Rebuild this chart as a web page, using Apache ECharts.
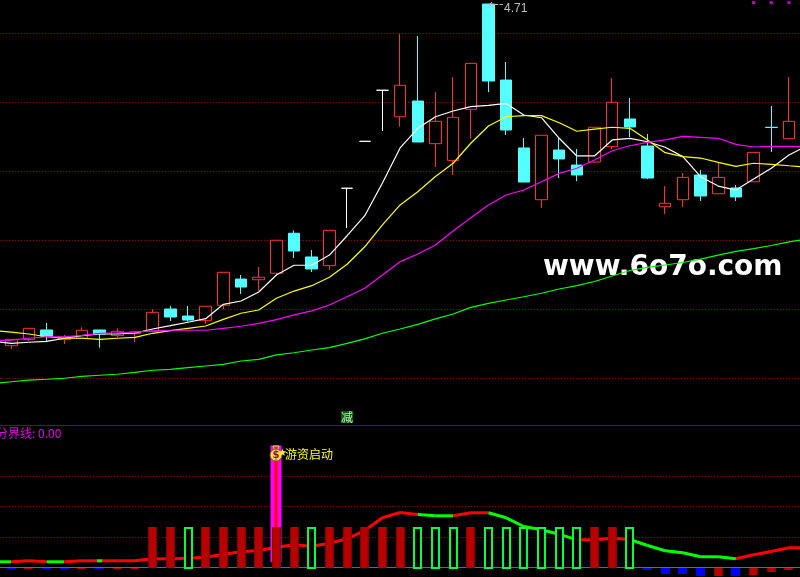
<!DOCTYPE html>
<html>
<head>
<meta charset="utf-8">
<title>K线</title>
<style>
    html, body { margin: 0; padding: 0; background: #000; }
    #main { width: 800px; height: 577px; }
</style>
<script src="https://cdn.jsdelivr.net/npm/echarts@6/dist/echarts.min.js"></script>
</head>
<body>
<div id="main"></div>
<script>
// one entry per trading day (last day has no candle, only lines)
const openPrice = [2.183, 2.234, 2.280, 2.348, 2.278, 2.288, 2.348, 2.307, 2.322, 2.338, 2.500, 2.449, 2.418, 2.527, 2.717, 2.712, 2.759, 3.049, 2.877, 2.814, 3.375, 3.715, 4.085, 3.893, 4.007, 3.698, 3.575, 3.947, 4.710, 4.159, 3.667, 3.292, 3.652, 3.543, 3.565, 3.676, 3.877, 3.681, 3.241, 3.292, 3.471, 3.335, 3.377, 3.422, 3.817, 3.734, null];
const closePrice = [2.232, 2.280, 2.360, 2.302, 2.297, 2.346, 2.319, 2.338, 2.333, 2.476, 2.442, 2.420, 2.520, 2.766, 2.659, 2.730, 2.998, 2.920, 2.790, 3.070, 3.375, 3.715, 4.085, 4.121, 3.710, 3.860, 3.889, 4.280, 4.152, 3.797, 3.420, 3.759, 3.587, 3.471, 3.817, 3.998, 3.819, 3.449, 3.266, 3.454, 3.319, 3.454, 3.312, 3.635, 3.815, 3.860, null];
const lowPrice = [2.181, 2.210, 2.268, 2.268, 2.246, 2.288, 2.220, 2.295, 2.261, 2.338, 2.413, 2.408, 2.393, 2.498, 2.609, 2.633, 2.739, 2.870, 2.768, 2.783, 3.087, 3.715, 3.790, 3.821, 3.710, 3.529, 3.471, 3.734, 4.072, 3.761, 3.420, 3.232, 3.449, 3.427, 3.558, 3.659, 3.746, 3.442, 3.188, 3.239, 3.283, 3.335, 3.283, 3.422, 3.638, 3.734, null];
const highPrice = [2.232, 2.280, 2.360, 2.399, 2.312, 2.367, 2.348, 2.360, 2.341, 2.498, 2.522, 2.522, 2.520, 2.766, 2.746, 2.804, 2.998, 3.070, 2.927, 3.070, 3.375, 3.715, 4.085, 4.493, 4.478, 4.072, 4.179, 4.280, 4.710, 4.290, 3.739, 3.759, 3.744, 3.659, 3.817, 4.174, 4.029, 3.768, 3.391, 3.485, 3.507, 3.558, 3.398, 3.635, 3.971, 4.181, null];

const ma5 = [2.265, 2.251, 2.259, 2.266, 2.288, 2.307, 2.319, 2.319, 2.326, 2.355, 2.379, 2.404, 2.430, 2.534, 2.558, 2.623, 2.746, 2.817, 2.817, 2.891, 3.031, 3.176, 3.413, 3.667, 3.809, 3.893, 3.935, 3.966, 3.976, 3.990, 3.906, 3.886, 3.737, 3.609, 3.609, 3.725, 3.737, 3.712, 3.672, 3.604, 3.459, 3.391, 3.362, 3.442, 3.520, 3.616, 3.681];
const ma10 = [2.344, 2.333, 2.319, 2.299, 2.288, 2.288, 2.280, 2.288, 2.295, 2.324, 2.343, 2.360, 2.377, 2.425, 2.469, 2.493, 2.578, 2.630, 2.669, 2.730, 2.824, 2.951, 3.109, 3.254, 3.350, 3.460, 3.556, 3.701, 3.826, 3.893, 3.901, 3.901, 3.850, 3.788, 3.804, 3.817, 3.809, 3.725, 3.633, 3.604, 3.594, 3.563, 3.534, 3.556, 3.548, 3.538, 3.529];
const ma20 = [2.268, 2.275, 2.288, 2.299, 2.299, 2.309, 2.324, 2.328, 2.333, 2.341, 2.346, 2.346, 2.346, 2.360, 2.375, 2.396, 2.423, 2.457, 2.486, 2.529, 2.589, 2.650, 2.746, 2.843, 2.899, 2.964, 3.065, 3.162, 3.254, 3.326, 3.362, 3.422, 3.483, 3.520, 3.580, 3.647, 3.683, 3.708, 3.725, 3.751, 3.744, 3.737, 3.693, 3.674, 3.679, 3.679, 3.676];
const ma60 = [1.960, 1.973, 1.985, 1.991, 1.998, 2.012, 2.020, 2.027, 2.041, 2.056, 2.063, 2.075, 2.087, 2.099, 2.123, 2.135, 2.167, 2.183, 2.203, 2.220, 2.251, 2.283, 2.324, 2.355, 2.389, 2.428, 2.464, 2.512, 2.541, 2.565, 2.589, 2.614, 2.645, 2.670, 2.699, 2.739, 2.779, 2.801, 2.819, 2.837, 2.862, 2.891, 2.917, 2.938, 2.960, 2.986, 3.007];

// lower panel
const curve = [1.87, 1.87, 2.2, 1.87, 1.87, 2.2, 2.2, 2.2, 2.2, 2.85, 2.85, 3.05, 3.38, 4.36, 5.15, 5.57, 6.66, 7.44, 6.98, 7.97, 9.41, 12.13, 16.3, 18.03, 17.38, 16.95, 16.95, 17.93, 17.93, 16.3, 13.44, 12.36, 10.92, 9.08, 9.08, 9.61, 9.18, 7.21, 5.48, 4.82, 3.51, 3.51, 2.85, 4.16, 5.25, 6.46, 6.46];
// 1 = the segment leaving this day is green
const curveGreen = [1, 0, 0, 1, 0, 0, 0, 0, 0, 0, 0, 0, 0, 0, 0, 0, 0, 0, 0, 0, 0, 0, 0, 0, 1, 1, 0, 0, 1, 1, 1, 1, 1, 0, 0, 0, 1, 1, 1, 1, 1, 1, 0, 0, 0, 0, 0];
const curveBlipDays = [6];
const barValues = [null, -0.4, -0.4, -0.4, -0.4, -0.4, -0.4, -0.4, -0.4, 13.44, 13.44, 13.44, 13.44, 13.44, 13.44, 13.44, 13.44, 13.44, 13.44, 13.44, 13.44, 13.44, 13.44, 13.44, 13.44, 13.44, 13.44, 13.44, 13.44, 13.44, 13.44, 13.44, 13.44, 13.44, 13.44, 13.44, 13.44, -0.66, -1.97, -1.97, -2.62, -2.62, -2.62, -2.2, -1.3, -0.66, null];
const barKinds = ['', 'b', 'r', 'b', 'b', 'r', 'b', 'r', 'r', 'r', 'r', 'g', 'r', 'r', 'r', 'r', 'r', 'r', 'g', 'r', 'r', 'r', 'r', 'r', 'g', 'g', 'g', 'r', 'g', 'g', 'g', 'g', 'g', 'g', 'r', 'r', 'g', 'b', 'b', 'b', 'b', 'r', 'b', 'r', 'r', 'r', ''];

// signal marks
const spikeDay = [16];
const spikeRange = [1.74, 40];
const spikeLabelLevel = [37.2];
const minusDay = [20];
const minusLevel = [1.717];
const dotDays = [43, 44, 45];
const dotLevel = [4.72];
const peakDay = [28];
const peakPrice = [4.71];
const separatorLevel = [1.66];

const days = openPrice.map((_, i) => String(i));
const zeroLine = days.map(() => 0);
const candleRows = openPrice.map((o, i) => o === null ? '-' : [o, closePrice[i], lowPrice[i], highPrice[i]]);

const RED = '#ff3232', CYAN = '#54ffff';
const DOT_LINE = { color: '#b00000', width: 1, type: [1, 2] };

function renderCurve(params, api) {
    const i = api.value(0);
    const a = api.coord([i, api.value(1)]);
    const color = curveGreen[i] ? '#00ff00' : '#ff0000';
    const children = [];
    if (i + 1 < curve.length) {
        const b = api.coord([i + 1, curve[i + 1]]);
        children.push({ type: 'line', shape: { x1: a[0], y1: a[1], x2: b[0], y2: b[1] }, style: { stroke: color, lineWidth: 3 } });
    }
    if (curveBlipDays.indexOf(i) !== -1) {
        children.push({ type: 'rect', shape: { x: a[0] - 2.5, y: a[1] - 1.5, width: 5, height: 3 }, style: { fill: '#00ff00' } });
    }
    return { type: 'group', children: children };
}

function renderBar(params, api) {
    const i = api.value(0);
    const kind = barKinds[i];
    const a = api.coord([i, api.value(1)]);
    const b = api.coord([i, 0]);
    const x = Math.round(a[0] - 4.5);
    const y = Math.round(Math.min(a[1], b[1]));
    const h = Math.max(1, Math.round(Math.abs(a[1] - b[1])));
    if (kind === 'g') {
        return { type: 'rect', shape: { x: x + 1, y: y + 1, width: 7, height: h - 1 }, style: { fill: '#000', stroke: '#00ff40', lineWidth: 2 } };
    }
    if (kind === 'b') {
        return { type: 'rect', shape: { x: x, y: y, width: 9, height: h }, style: { fill: '#0000ff' } };
    }
    const red = new echarts.graphic.LinearGradient(0, 0, 1, 0, [
        { offset: 0, color: '#7c0000' }, { offset: 0.2, color: '#b80000' },
        { offset: 0.8, color: '#b80000' }, { offset: 1, color: '#7c0000' }
    ]);
    return { type: 'rect', shape: { x: x, y: y, width: 9, height: h }, style: { fill: red } };
}

function renderSpike(params, api) {
    const i = api.value(0);
    const top = api.coord([i, api.value(2)]);
    const low = api.coord([i, api.value(1)]);
    const mark = api.coord([i, api.value(3)]);
    const x = Math.round(top[0]);
    const star = [];
    for (let k = 0; k < 10; k++) {
        const r = k % 2 ? 1.6 : 4;
        const t = -Math.PI / 2 + k * Math.PI / 5;
        star.push([x + 6.5 + r * Math.cos(t), mark[1] - 1.5 + r * Math.sin(t)]);
    }
    return {
        type: 'group',
        children: [
            { type: 'rect', shape: { x: x - 5.5, y: top[1], width: 11, height: low[1] - top[1] }, style: { fill: '#ff00ff' } },
            { type: 'rect', shape: { x: x - 1.5, y: top[1], width: 3, height: low[1] - top[1] }, style: { fill: '#ff0000' } },
            { type: 'polygon', shape: { points: [[x - 3, mark[1] - 8], [x + 3, mark[1] - 8], [x + 1.5, mark[1] - 4], [x - 1.5, mark[1] - 4]] }, style: { fill: '#c0392b', stroke: '#ffd860', lineWidth: 1 } },
            { type: 'circle', shape: { cx: x, cy: mark[1] + 1, r: 6 }, style: { fill: '#f5d76a', stroke: '#8a5a00', lineWidth: 1 } },
            { type: 'text', x: x, y: mark[1] + 1, style: { text: '$', fill: '#8b1a1a', font: 'bold 10px "DejaVu Sans"', align: 'center', verticalAlign: 'middle' } },
            { type: 'polygon', shape: { points: star }, style: { fill: '#ffff00' } },
            { type: 'text', x: x + 9, y: mark[1], style: { text: '游资启动', fill: '#ffff00', font: '12px "Noto Sans CJK SC"', verticalAlign: 'middle' } }
        ]
    };
}

function maLine(name, data, color) {
    return {
        name: name, type: 'line', data: data, xAxisIndex: 0, yAxisIndex: 0,
        symbol: 'none', animation: false, z: 3, clip: true,
        lineStyle: { color: color, width: 1.2 }
    };
}

const optionObj = {
    backgroundColor: '#000',
    animation: false,
    graphic: [
        { type: 'text', x: 543, y: 254, z: 1, silent: true, style: { text: 'www.6o7o.com', fill: '#fff', font: 'bold 28px "DejaVu Sans"' } },
        { type: 'text', x: -4, y: 427, z: 5, silent: true, style: { text: '分界线: 0.00', fill: '#e000e0', font: '12px "Noto Sans CJK SC"' } }
    ],
    grid: [
        { left: -15.24, top: -36, width: 830.7, height: 483, outerBoundsMode: 'none' },
        { left: -15.24, top: 445.5, width: 830.7, height: 152.5, outerBoundsMode: 'none' }
    ],
    xAxis: [
        { type: 'category', gridIndex: 0, data: days, show: false, boundaryGap: true },
        { type: 'category', gridIndex: 1, data: days, show: false, boundaryGap: true }
    ],
    yAxis: [
        {
            type: 'value', gridIndex: 0, min: 1.5, max: 5, interval: 0.5,
            axisLine: { show: false }, axisTick: { show: false }, axisLabel: { show: false },
            splitLine: { show: true, showMinLine: false, lineStyle: DOT_LINE }
        },
        {
            type: 'value', gridIndex: 1, min: -10, max: 40, interval: 10,
            axisLine: { show: false }, axisTick: { show: false }, axisLabel: { show: false },
            splitLine: { show: true, showMaxLine: false, showMinLine: false, lineStyle: DOT_LINE }
        }
    ],
    series: [
        {
            name: 'K', type: 'candlestick', data: candleRows, xAxisIndex: 0, yAxisIndex: 0,
            barWidth: 12, z: 2,
            itemStyle: { color: '#000', color0: CYAN, borderColor: RED, borderColor0: CYAN, borderColorDoji: '#fff', borderWidth: 1 },
            markLine: {
                silent: true, symbol: 'none', animation: false,
                label: { show: false },
                lineStyle: { color: '#8c0000', width: 1, type: 'solid' },
                data: [{ yAxis: separatorLevel[0] }]
            },
            markPoint: {
                silent: true, symbol: 'circle', symbolSize: 1, animation: false,
                itemStyle: { color: 'transparent' },
                label: { show: true, position: 'right', distance: 0, color: '#c0c0c0' },
                data: [
                    {
                        coord: [String(peakDay[0]), peakPrice[0]],
                        label: { formatter: String(peakPrice[0]), offset: [15, 5], fontSize: 12, fontFamily: 'Liberation Sans' }
                    },
                    {
                        coord: [String(peakDay[0]), peakPrice[0]],
                        label: { formatter: '\u2190-', offset: [0, 1], fontSize: 12, fontFamily: 'DejaVu Sans' }
                    }
                ]
            }
        },
        maLine('MA5', ma5, '#ffffff'),
        maLine('MA10', ma10, '#ffff00'),
        maLine('MA20', ma20, '#ff00ff'),
        maLine('MA60', ma60, '#00ff00'),
        {
            name: 'minus', type: 'scatter', xAxisIndex: 0, yAxisIndex: 0, symbolSize: 0, z: 4,
            data: [[minusDay[0], minusLevel[0]]],
            label: {
                show: true, position: 'inside', formatter: '减', color: '#fff',
                fontSize: 12, fontFamily: 'Noto Sans CJK SC', lineHeight: 12, backgroundColor: '#007a00'
            }
        },
        {
            name: 'dots', type: 'scatter', xAxisIndex: 0, yAxisIndex: 0, symbol: 'rect', symbolSize: 3, z: 4,
            itemStyle: { color: '#ff00ff' },
            data: dotDays.map(d => [d, dotLevel[0]])
        },
        {
            name: 'zero', type: 'line', data: zeroLine, xAxisIndex: 1, yAxisIndex: 1,
            symbol: 'none', animation: false, z: 2,
            lineStyle: { color: '#ff00ff', width: 1 }
        },
        {
            name: 'curve', type: 'custom', xAxisIndex: 1, yAxisIndex: 1, z: 2,
            renderItem: renderCurve,
            encode: { x: 0, y: 1 },
            data: curve.map((v, i) => [i, v])
        },
        {
            name: 'spike', type: 'custom', xAxisIndex: 1, yAxisIndex: 1, z: 3, clip: false,
            renderItem: renderSpike,
            data: [[spikeDay[0], spikeRange[0], spikeRange[1], spikeLabelLevel[0]]]
        },
        {
            name: 'bars', type: 'custom', xAxisIndex: 1, yAxisIndex: 1, z: 4,
            renderItem: renderBar,
            encode: { x: 0, y: 1 },
            data: barValues.map((v, i) => [i, v]).filter(r => r[1] !== null)
        }
    ]
};

const myChart = echarts.init(document.getElementById('main'));
myChart.setOption(optionObj);
</script>
</body>
</html>
